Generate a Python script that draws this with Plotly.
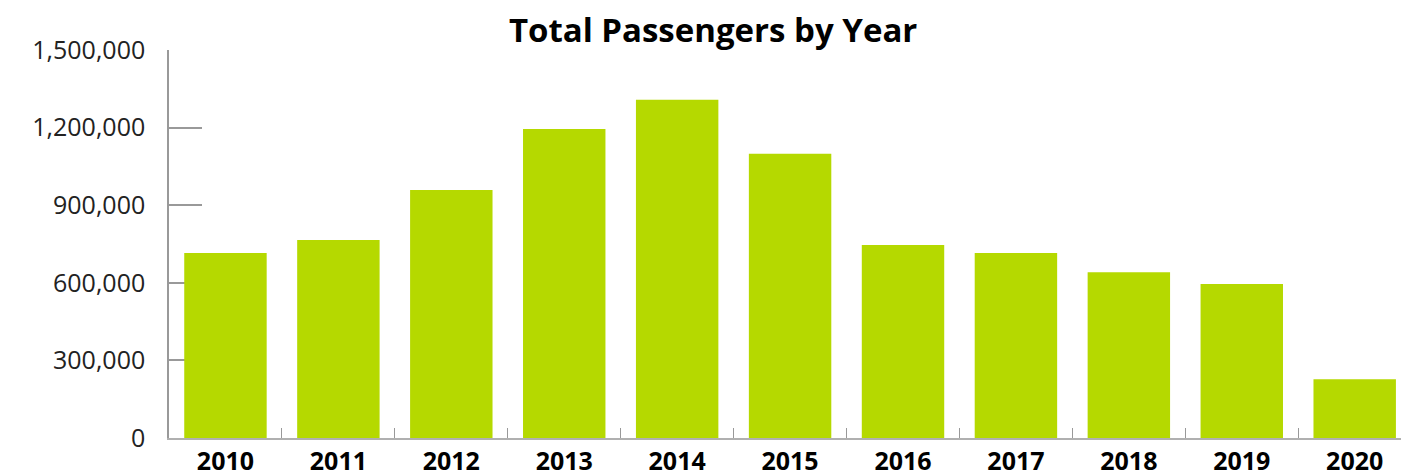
import plotly.graph_objects as go

years = ["2010", "2011", "2012", "2013", "2014", "2015", "2016", "2017", "2018", "2019", "2020"]
passengers = [715000, 765000, 959000, 1195000, 1308000, 1099000, 746000, 715000, 641000, 595000, 227000]
y_ticks = [0, 300000, 600000, 900000, 1200000, 1500000]
y_tick_labels = ["0", "300,000", "600,000", "900,000", "1,200,000", "1,500,000"]

fig = go.Figure(go.Bar(
    x=years, y=passengers,
    marker=dict(color="#B5D900", line=dict(width=0)),
    width=0.73,
))

fig.update_layout(
    width=1401, height=475,
    margin=dict(l=169, r=0, t=50, b=37, autoexpand=False),
    paper_bgcolor="white", plot_bgcolor="white",
    showlegend=False,
    title=dict(text="<b>Total Passengers by Year</b>", x=0.509, xref="container", xanchor="center",
               y=0.935, yref="container", yanchor="middle",
               font=dict(family="Open Sans", size=33, color="black")),
    font=dict(family="Open Sans", color="#222"),
)

fig.update_xaxes(
    type="category", range=[-0.5, 10.41], automargin=False,
    showline=True, linecolor="#b0b0b0", linewidth=1.5,
    ticks="inside", tickson="boundaries", ticklen=10, tickcolor="#999", tickwidth=1,
    showgrid=False, zeroline=False,
    tickfont=dict(family="Open Sans", size=25, color="black", weight="bold"),
    ticklabelstandoff=0,
)

fig.update_yaxes(
    range=[0, 1500000], tickvals=y_ticks, ticktext=y_tick_labels, automargin=False,
    showline=True, linecolor="#999", linewidth=1.5,
    ticks="inside", ticklen=33, tickcolor="#999", tickwidth=1.5,
    showgrid=False, zeroline=False,
    layer="below traces",
    tickfont=dict(family="Open Sans", size=25, color="#222"),
    ticklabelstandoff=17,
)

fig.write_html("out.html")
